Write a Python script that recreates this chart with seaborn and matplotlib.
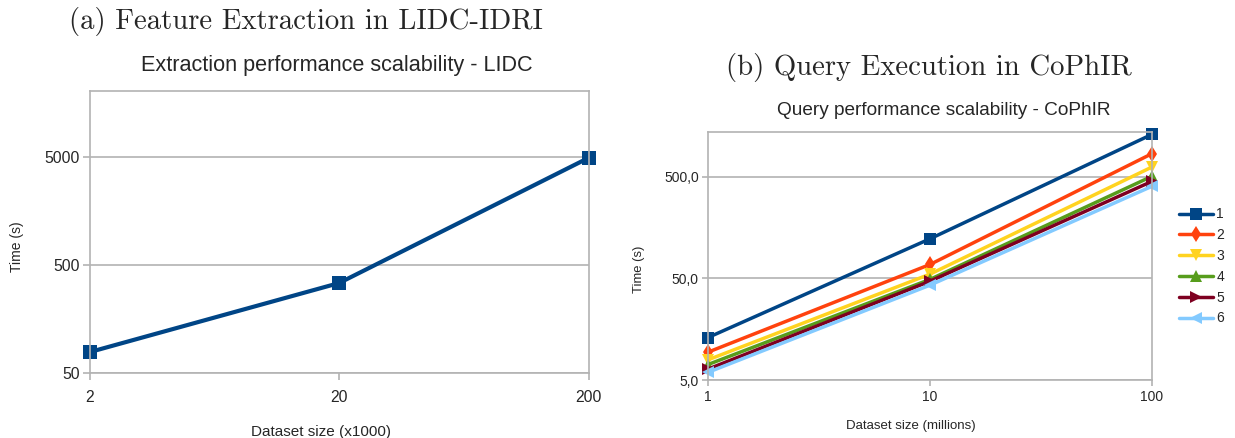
import pandas as pd
import seaborn as sns
import matplotlib.pyplot as plt
from matplotlib.ticker import FixedLocator, FuncFormatter, NullLocator

# data
lidc_size = [2, 20, 200]
lidc_time = [78, 340, 4900]

cophir_size = [1, 10, 100]
cophir_series = ["1", "2", "3", "4", "5", "6"]
cophir_times = {
    "1": [13.1, 123, 1315],
    "2": [9.4, 68.7, 849],
    "3": [7.9, 55.2, 627],
    "4": [7.1, 49, 508],
    "5": [6.4, 47, 453],
    "6": [5.95, 43, 405],
}

# LibreOffice default chart palette + markers
palette = ["#004586", "#ff420e", "#ffd320", "#579d1c", "#7e0021", "#83caff"]
markers = ["s", "d", "v", "^", ">", "<"]

sns.set_style("white")
plt.rcParams['font.family'] = ['Liberation Sans', 'DejaVu Sans']

fig = plt.figure(figsize=(12.35, 4.38), dpi=100)
ax1 = fig.add_axes([89.5 / 1235, 65 / 438, 499 / 1235, 282 / 438])
ax2 = fig.add_axes([708 / 1235, 58 / 438, 444 / 1235, 248 / 438])

grid_c = "#b3b3b3"


def style_axes(ax):
    ax.set_xscale("log")
    ax.set_yscale("log")
    ax.xaxis.set_minor_locator(NullLocator())
    ax.yaxis.set_minor_locator(NullLocator())
    ax.grid(axis="y", color=grid_c, linewidth=1.2)
    ax.grid(axis="x", visible=False)
    for s in ax.spines.values():
        s.set_color(grid_c)
        s.set_linewidth(1.2)
    ax.tick_params(axis="both", which="major", width=1.2, color=grid_c,
                   direction="out", bottom=True, left=True)
    for ln in ax.lines:
        ln.set_clip_on(False)


# (a) feature extraction
df_a = pd.DataFrame({"size": lidc_size, "time": lidc_time})
sns.lineplot(data=df_a, x="size", y="time", ax=ax1, color=palette[0],
             marker="s", markersize=10, linewidth=3, markeredgewidth=0)
style_axes(ax1)
ax1.set_xlim(2, 200)
ax1.set_ylim(50, 20400)
ax1.xaxis.set_major_locator(FixedLocator(lidc_size))
ax1.xaxis.set_major_formatter(FuncFormatter(lambda v, p: f"{v:g}"))
ax1.yaxis.set_major_locator(FixedLocator([50, 500, 5000]))
ax1.yaxis.set_major_formatter(FuncFormatter(lambda v, p: f"{v:g}"))
ax1.tick_params(labelsize=11.3, length=5)
ax1.tick_params(axis="x", pad=7.5)
ax1.tick_params(axis="y", pad=2.2)
ax1.set_xlabel("Dataset size (x1000)", fontsize=11)
ax1.xaxis.set_label_coords(0.464, -0.183)
ax1.set_ylabel("Time (s)", fontsize=10)
ax1.yaxis.set_label_coords(-0.131, 0.447)
ax1.set_title("Extraction performance scalability - LIDC", fontsize=15.6,
              x=0.495, y=1.071, pad=0)

# (b) query execution
rows = []
for name in cophir_series:
    for x, t in zip(cophir_size, cophir_times[name]):
        rows.append({"size": x, "time": t, "series": name})
df_b = pd.DataFrame(rows)
sns.lineplot(data=df_b, x="size", y="time", hue="series", style="series",
             palette=palette, markers=markers, dashes=False, ax=ax2,
             markersize=8.6, linewidth=2.5, markeredgewidth=0)
style_axes(ax2)
ax2.set_xlim(1, 100)
ax2.set_ylim(5, 1387)
ax2.xaxis.set_major_locator(FixedLocator(cophir_size))
ax2.xaxis.set_major_formatter(FuncFormatter(lambda v, p: f"{v:g}"))
ax2.yaxis.set_major_locator(FixedLocator([5, 50, 500]))
ax2.yaxis.set_major_formatter(FuncFormatter(lambda v, p: f"{v:.1f}".replace(".", ",")))
ax2.tick_params(labelsize=10, length=4.5)
ax2.tick_params(axis="x", pad=3)
ax2.tick_params(axis="y", pad=2.2)
ax2.set_xlabel("Dataset size (millions)", fontsize=9.5)
ax2.xaxis.set_label_coords(0.457, -0.163)
ax2.set_ylabel("Time (s)", fontsize=9.4)
ax2.yaxis.set_label_coords(-0.142, 0.448)
ax2.set_title("Query performance scalability - CoPhIR", fontsize=13.7,
              x=0.530, y=1.069, pad=0)
leg = ax2.legend(loc="center left", bbox_to_anchor=(1.061, 0.458), frameon=False,
                 fontsize=10, handlelength=2.45, handletextpad=0.22,
                 labelspacing=0.49, borderaxespad=0, borderpad=0)

# sub-figure captions
fig.text(306 / 1235, (438 - 29) / 438, "(a) Feature Extraction in LIDC-IDRI",
         family="cmr10", fontsize=20.7, ha="center", va="baseline")
fig.text(929 / 1235, (438 - 75) / 438, "(b) Query Execution in CoPhIR",
         family="cmr10", fontsize=20.7, ha="center", va="baseline")

fig.savefig("out.png", dpi=100)
